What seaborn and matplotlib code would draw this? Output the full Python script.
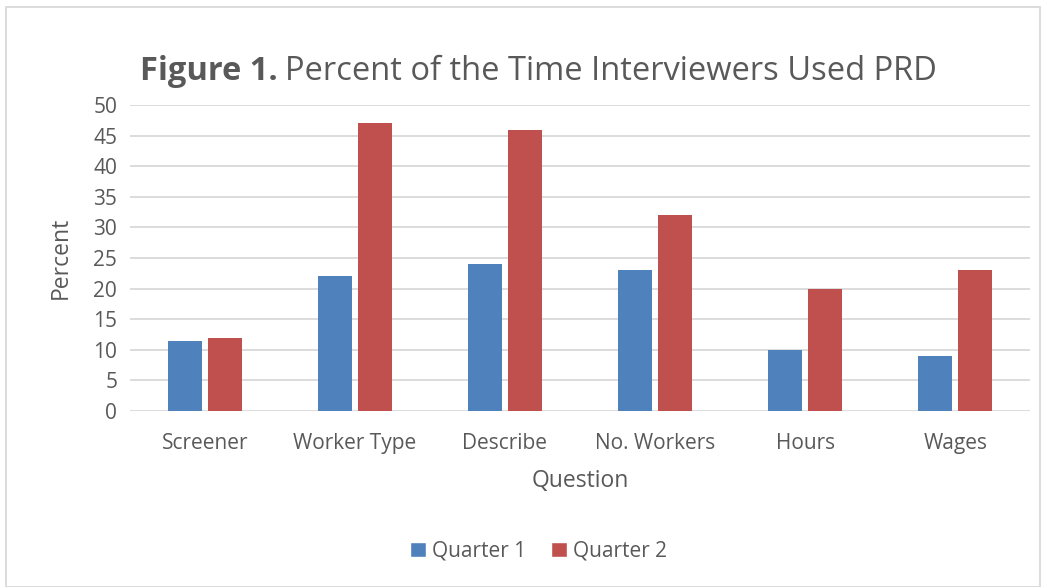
import matplotlib
matplotlib.use("Agg")
import matplotlib.pyplot as plt
import seaborn as sns
import pandas as pd
from matplotlib.patches import Rectangle, Patch

questions = ["Screener", "Worker Type", "Describe", "No. Workers", "Hours", "Wages"]
quarter1 = [11.5, 22, 24, 23, 10, 9]
quarter2 = [12, 47, 46, 32, 20, 23]
series_names = ["Quarter 1", "Quarter 2"]
yticks = [0, 5, 10, 15, 20, 25, 30, 35, 40, 45, 50]

df = pd.DataFrame({
    "Question": questions * 2,
    "Percent": quarter1 + quarter2,
    "Series": [series_names[0]] * len(questions) + [series_names[1]] * len(questions),
})

sns.set_theme(style="white")
plt.rcParams["font.family"] = ["Open Sans", "DejaVu Sans"]
txt = "#595959"
fig = plt.figure(figsize=(10.46, 5.87), dpi=100)
ax = fig.add_axes([0.124, 0.30, 0.861, 0.521])

sns.barplot(data=df, x="Question", y="Percent", hue="Series", order=questions,
            hue_order=series_names, palette=["#4F81BD", "#C0504D"],
            width=0.53, gap=0.15, saturation=1, ax=ax, legend=False, zorder=3,
            linewidth=0)

ax.set_ylim(0, 50)
ax.set_xlim(-0.5, len(questions) - 0.5)
ax.set_yticks(yticks)
ax.yaxis.grid(True, color="#D9D9D9", linewidth=1.3, zorder=0)
ax.set_axisbelow(True)
for s in ax.spines.values():
    s.set_visible(False)
ax.tick_params(axis="x", length=0, colors=txt, labelsize=15, pad=16)
ax.tick_params(axis="y", length=0, colors=txt, labelsize=15, pad=9)
ax.set_xlabel("Question", fontsize=16.5, color=txt, labelpad=11)
ax.set_ylabel("Percent", fontsize=16.5, color=txt, labelpad=15)

# title: bold part followed by regular part
t1 = fig.text(0.134, 0.879, "Figure 1.", fontsize=23.5, fontweight="bold", color=txt,
              ha="left", va="center")
fig.canvas.draw()
bb = t1.get_window_extent(renderer=fig.canvas.get_renderer())
x2 = (bb.x1 + 7) / fig.bbox.width
fig.text(x2, 0.879, "Percent of the Time Interviewers Used PRD", fontsize=23.5, color=txt,
         ha="left", va="center")

handles = [Patch(facecolor="#4F81BD"), Patch(facecolor="#C0504D")]
fig.legend(handles, series_names, loc="center", bbox_to_anchor=(0.515, 0.061), ncol=2,
           frameon=False, fontsize=15, labelcolor=txt, handlelength=0.75, handleheight=0.75,
           handletextpad=0.3, columnspacing=1.2)

fig.patches.append(Rectangle((0.006, 0.0), 0.988, 0.988, transform=fig.transFigure,
                             fill=False, edgecolor="#D9D9D9", linewidth=1.3))
fig.savefig("out.png", dpi=100, facecolor="white")
